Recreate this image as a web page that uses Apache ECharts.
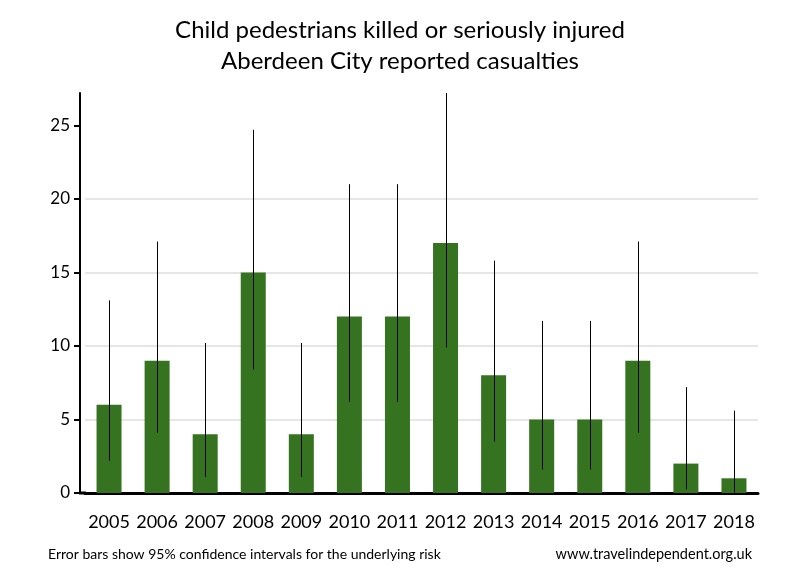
<!DOCTYPE html>
<html>
<head>
<meta charset="utf-8">
<script src="https://cdn.jsdelivr.net/npm/echarts@6/dist/echarts.min.js"></script>
<style>
  html, body { margin: 0; padding: 0; background: #fff; }
  #chart { width: 800px; height: 580px; }
</style>
</head>
<body>
<div id="chart"></div>
<script>
var years = ['2005','2006','2007','2008','2009','2010','2011','2012','2013','2014','2015','2016','2017','2018'];
var casualties = [6, 9, 4, 15, 4, 12, 12, 17, 8, 5, 5, 9, 2, 1];
var ciLower = [2.2, 4.1, 1.1, 8.4, 1.1, 6.2, 6.2, 9.9, 3.5, 1.6, 1.6, 4.1, 0.25, 0.03];
var ciUpper = [13.1, 17.1, 10.2, 24.7, 10.2, 21.0, 21.0, 27.2, 15.8, 11.7, 11.7, 17.1, 7.2, 5.6];
var yTicks = [0, 5, 10, 15, 20, 25];

(function(){
  var chart = echarts.init(document.getElementById('chart'));
  var font = 'Lato, "Open Sans", sans-serif';

  var errData = years.map(function(y, i){ return [i, ciLower[i], ciUpper[i]]; });

  var option = {
    backgroundColor: '#fff',
    animation: false,
    title: {
      text: 'Child pedestrians killed or seriously injured\nAberdeen City reported casualties',
      left: 'center',
      top: 10,
      textStyle: { fontFamily: font, fontSize: 24, fontWeight: 'normal', color: '#000', lineHeight: 31 }
    },
    grid: { left: 85, right: 42, top: 93, bottom: 87 },
    xAxis: {
      type: 'category',
      data: years,
      axisLine: { lineStyle: { color: '#000', width: 3 } },
      axisTick: { show: false },
      axisLabel: { interval: 0, fontFamily: font, fontSize: 18, color: '#000', margin: 20 }
    },
    yAxis: {
      type: 'value',
      min: 0, max: 27.2, interval: 5,
      offset: 5,
      axisLine: { show: true, lineStyle: { color: '#000', width: 2 } },
      axisTick: { show: true, length: 6, customValues: yTicks, lineStyle: { color: '#000', width: 2 } },
      axisLabel: {
        fontFamily: font, fontSize: 17, color: '#000', margin: 10,
        customValues: yTicks
      },
      splitLine: { showMaxLine: false, showMinLine: false, lineStyle: { color: '#e6e6e6', width: 2 } }
    },
    series: [
      {
        type: 'bar',
        data: casualties,
        barWidth: 25,
        itemStyle: { color: '#367321' }
      },
      {
        type: 'custom',
        data: errData,
        z: 10,
        renderItem: function(params, api){
          var lo = api.coord([api.value(0), api.value(1)]);
          var hi = api.coord([api.value(0), api.value(2)]);
          var x = Math.round(lo[0]) + 0.5;
          return {
            type: 'line',
            shape: { x1: x, y1: lo[1], x2: x, y2: hi[1] },
            style: { stroke: '#000', lineWidth: 1 }
          };
        }
      }
    ],
    graphic: [
      { type: 'line', shape: { x1: 79, y1: 493, x2: 86, y2: 493 }, style: { stroke: '#000', lineWidth: 3 } },
      { type: 'text', left: 48, top: 547, style: { text: 'Error bars show 95% confidence intervals for the underlying risk', fontFamily: font, fontSize: 14, fill: '#000' } },
      { type: 'text', right: 48, top: 547, style: { text: 'www.travelindependent.org.uk', fontFamily: font, fontSize: 14.5, fill: '#000' } }
    ]
  };

  chart.setOption(option);
})();
</script>
</body>
</html>
